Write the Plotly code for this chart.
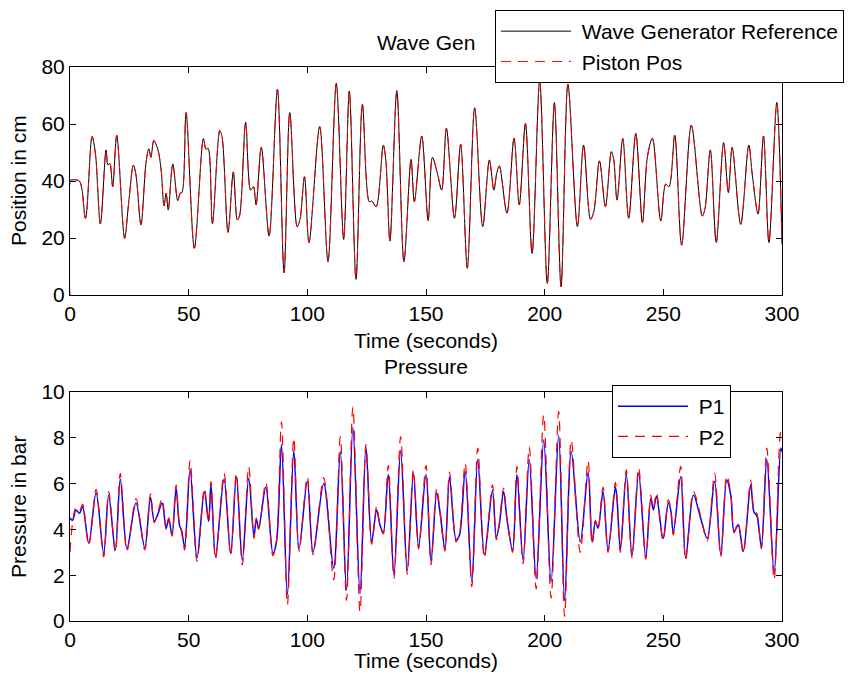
import plotly.graph_objects as go

# ---------------- data ----------------
ref_t = [0.0, 3.9, 6.5, 9.3, 10.7, 12.8, 15.2, 16.0, 16.8, 18.0, 19.7, 23.0, 24.7, 26.7, 27.8,
         29.9, 32.0, 33.2, 34.1, 35.3, 37.0, 38.4, 39.6, 40.5, 41.4, 43.3, 45.4, 46.4, 47.2,
         48.9, 52.4, 56.2, 57.3, 58.2, 60.0, 63.1, 64.05, 66.6, 68.8, 70.5, 71.5, 74.0, 76.1,
         77.3, 78.4, 80.6, 83.9, 87.4, 90.2, 92.6, 95.7, 96.9, 98.8, 100.7, 105.2, 108.7,
         112.2, 115.3, 117.7, 120.5, 123.2, 126.1, 127.1, 129.0, 132.0, 133.1, 134.8, 137.7,
         140.7, 143.7, 145.1, 148.2, 150.9, 152.7, 154.8, 156.6, 158.6, 162.0, 164.6, 167.4,
         170.5, 173.9, 176.7, 178.6, 179.8, 180.9, 184.1, 187.1, 189.3, 191.9, 194.7, 197.9,
         201.1, 204.1, 206.9, 209.8, 213.8, 216.4, 219.3, 220.7, 223.1, 225.6, 228.1, 229.1,
         230.5, 232.9, 235.4, 238.4, 241.2, 243.3, 245.4, 248.9, 251.0, 252.4, 254.8, 257.7,
         261.8, 266.4, 267.5, 269.8, 272.3, 275.4, 277.4, 279.0, 282.6, 286.0, 287.5, 289.9,
         292.2, 294.5, 297.8, 300.0]
ref_pos = [40.3, 40.0, 26.9, 55.6, 49.7, 24.9, 50.9, 45.6, 46.2, 38.0, 56.0, 19.9, 32.2, 45.6, 42.1,
           24.6, 46.2, 51.3, 48.3, 54.2, 51.1, 43.9, 31.3, 35.7, 29.8, 46.0, 33.1, 35.7, 36.0,
           64.0, 16.4, 54.9, 51.1, 51.5, 25.0, 57.7, 55.6, 22.0, 43.2, 26.3, 28.0, 60.6, 36.8,
           38.0, 31.6, 51.8, 20.7, 72.2, 7.8, 64.0, 24.0, 26.5, 41.5, 18.4, 59.1, 11.7,
           74.3, 19.5, 71.6, 5.5, 66.9, 32.7, 33.0, 31.0, 52.6, 47.0, 18.9, 71.7,
           11.7, 47.6, 32.7, 55.8, 26.1, 48.3, 42.7, 36.8, 58.5, 26.9, 52.9, 9.4,
           65.7, 24.0, 47.4, 36.8, 42.7, 45.3, 28.7, 55.0, 31.6, 60.2, 14.6, 75.4,
           4.1, 67.5, 2.9, 74.0, 24.0, 52.6, 26.5, 29.2, 47.1, 31.0, 50.3, 47.5,
           33.3, 54.9, 26.9, 56.7, 25.4, 48.5, 55.0, 26.0, 38.9, 38.0, 56.1, 17.5,
           59.6, 27.7, 30.0, 50.9, 18.4, 53.5, 35.9, 51.8, 24.8, 52.6, 42.1, 28.4,
           55.8, 18.4, 67.5, 18.0]
# piston follows the reference, starting from 0
piston_t = [0.0, 0.6] + ref_t[1:]
piston_pos = [0.0, 40.0] + ref_pos[1:]

p_t = [0.0, 1.1, 2.5, 4.0, 5.3, 7.9, 11.0, 14.2, 16.3, 19.1, 21.2, 24.0, 27.8, 31.5, 33.9, 35.5,
       36.8, 38.8, 40.5, 41.6, 43.0, 44.7, 46.1, 47.0, 48.3, 50.6, 53.5, 56.6, 58.4, 59.4, 61.3,
       64.9, 67.7, 70.1, 72.6, 75.3, 77.5, 78.5, 79.5, 82.5, 85.5, 87.0, 89.1, 91.6, 94.3, 96.5,
       100.0, 102.4, 106.9, 111.1, 113.9, 116.5, 119.2, 122.2, 124.7, 127.1, 129.2, 130.6,
       132.0, 134.1, 136.5, 139.3, 142.1, 144.7, 146.9, 150.0, 152.1, 154.5, 155.9, 158.0,
       159.9, 162.7, 164.1, 166.5, 169.3, 171.8, 174.6, 178.0, 179.6, 180.8, 182.7, 184.1,
       186.5, 188.3, 190.9, 193.5, 196.4, 199.6, 202.7, 205.9, 208.4, 211.2, 215.0, 218.3,
       220.0, 221.4, 222.5, 224.6, 226.7, 229.8, 230.5, 231.9, 234.4, 236.8, 239.6, 242.6,
       244.7, 245.8, 247.1, 249.9, 252.1, 253.1, 254.2, 257.3, 259.4, 262.7, 265.7, 268.5,
       271.6, 274.2, 276.7, 278.4, 279.8, 281.5, 283.7, 286.8, 288.2, 289.4, 291.3, 293.6,
       296.7, 299.5, 300.0]
p1 = [4.5, 4.4, 4.85, 4.7, 5.0, 3.4, 5.6, 2.95, 5.5, 3.1, 6.2, 3.15, 5.15, 3.2, 5.4, 4.35,
      4.6, 5.15, 4.05, 4.45, 3.75, 5.8, 4.2, 3.95, 3.25, 6.6, 2.75, 5.65, 4.35, 5.95, 2.8,
      6.2, 2.95, 6.3, 2.65, 6.25, 3.7, 4.45, 4.05, 5.85, 2.95, 3.45, 7.7, 1.15, 7.45, 3.15,
      6.1, 3.0, 6.0, 2.3, 7.4, 1.35, 8.45, 1.2, 7.6, 3.45, 4.85, 4.2,
      3.85, 6.4, 2.0, 7.45, 2.2, 6.45, 3.25, 6.4, 2.6, 5.6, 4.75, 3.15,
      6.3, 3.55, 3.75, 6.55, 1.7, 7.05, 2.9, 5.7, 3.65, 4.15, 5.65, 4.45,
      3.1, 6.4, 2.65, 7.05, 1.85, 7.9, 1.7, 8.1, 0.9, 7.4, 3.45, 6.5,
      3.45, 4.35, 4.05, 5.65, 3.1, 5.85, 5.3, 3.1, 6.4, 2.85, 6.45, 2.8,
      5.35, 4.85, 5.45, 3.6, 5.15, 4.85, 3.85, 6.3, 2.75, 5.5, 4.5, 3.6,
      6.1, 2.9, 6.15, 5.5, 3.9, 4.2, 3.05, 5.95, 4.75, 4.6, 3.25, 7.05,
      2.1, 7.55, 7.4]
p2 = [3.0, 4.3, 4.95, 4.8, 5.1, 3.3, 5.75, 2.8, 5.65, 3.0, 6.45, 3.05, 5.35, 3.1, 5.55, 4.3,
      4.65, 5.35, 4.0, 4.5, 3.7, 5.95, 4.2, 3.9, 3.1, 7.0, 2.6, 5.8, 4.3, 6.1, 2.7,
      6.45, 2.85, 6.45, 2.45, 6.75, 3.6, 4.5, 4.0, 6.05, 2.85, 3.5, 8.7, 0.7, 8.0, 3.05,
      6.3, 2.9, 6.25, 1.8, 8.05, 0.9, 9.35, 0.4, 7.7, 3.35, 5.0, 4.2,
      3.8, 6.8, 1.85, 8.05, 2.05, 6.6, 3.15, 6.8, 2.45, 5.8, 4.8, 3.05,
      6.5, 3.45, 3.8, 6.9, 1.5, 7.55, 2.75, 5.95, 3.55, 4.2, 5.8, 4.5,
      3.0, 6.75, 2.5, 7.6, 1.4, 9.0, 1.0, 9.15, 0.2, 7.9, 3.0, 7.0,
      3.35, 4.4, 4.0, 5.85, 3.0, 6.05, 5.35, 3.0, 6.6, 2.75, 6.7, 2.7,
      5.5, 4.9, 5.6, 3.5, 5.3, 4.9, 3.75, 6.75, 2.65, 5.65, 4.6, 3.5,
      6.45, 2.8, 6.35, 5.6, 3.85, 4.3, 2.95, 6.15, 4.85, 4.7, 3.15, 7.55,
      1.8, 8.3, 8.2]

x_ticks = [0, 50, 100, 150, 200, 250, 300]
pos_ticks = [0, 20, 40, 60, 80]
p_ticks = [0, 2, 4, 6, 8, 10]

# ---------------- figure ----------------
FONT = "Liberation Sans, Arial, sans-serif"
FS = 21
NB = "\u00a0"

fig = go.Figure()
fig.add_trace(go.Scatter(x=ref_t, y=ref_pos, mode="lines", name=NB + "Wave Generator Reference",
                         line=dict(color="black", width=1, shape="spline", smoothing=0.9),
                         xaxis="x", yaxis="y", legend="legend"))
fig.add_trace(go.Scatter(x=piston_t, y=piston_pos, mode="lines", name=NB + "Piston Pos",
                         line=dict(color="#ff0000", width=1, dash="10px,7px", shape="spline", smoothing=0.9),
                         xaxis="x", yaxis="y", legend="legend"))
fig.add_trace(go.Scatter(x=p_t, y=p1, mode="lines", name=NB + "P1",
                         line=dict(color="#0000ff", width=1.5, shape="spline", smoothing=0.9),
                         xaxis="x2", yaxis="y2", legend="legend2"))
fig.add_trace(go.Scatter(x=p_t, y=p2, mode="lines", name=NB + "P2",
                         line=dict(color="#ff0000", width=1.2, dash="10px,7px", shape="spline", smoothing=0.9),
                         xaxis="x2", yaxis="y2", legend="legend2"))

L, R, T, B = 70, 70, 67, 54
W, H = 852, 675
ph = H - T - B
pw = W - L - R


def px(x):
    return (x - L) / pw


def py(y):
    return (H - B - y) / ph


axis_common = dict(showline=True, linecolor="black", linewidth=1, mirror="allticks",
                   ticks="inside", ticklen=6, tickcolor="black", showgrid=False,
                   zeroline=False, tickfont=dict(family=FONT, size=FS, color="black"))

fig.update_layout(
    width=W, height=H,
    margin=dict(l=L, r=R, t=T, b=B, autoexpand=False),
    paper_bgcolor="white", plot_bgcolor="white",
    font=dict(family=FONT, size=FS, color="black"),
    xaxis=dict(domain=[0, 1], anchor="y", range=[0, 300], tickvals=x_ticks, **axis_common),
    yaxis=dict(domain=[py(295), 1], anchor="x", range=[0, 80], tickvals=pos_ticks, **axis_common),
    xaxis2=dict(domain=[0, 1], anchor="y2", range=[0, 300], tickvals=x_ticks, **axis_common),
    yaxis2=dict(domain=[0, py(392)], anchor="x2", range=[0, 10], tickvals=p_ticks, **axis_common),
    legend=dict(x=px(495), y=py(10), xanchor="left", yanchor="top",
                bgcolor="white", bordercolor="black", borderwidth=1,
                font=dict(family=FONT, size=FS, color="black"), itemwidth=70,
                tracegroupgap=0),
    legend2=dict(x=px(612), y=py(385), xanchor="left", yanchor="top",
                 bgcolor="white", bordercolor="black", borderwidth=1,
                 font=dict(family=FONT, size=FS, color="black"), itemwidth=70,
                 tracegroupgap=0),
    showlegend=True,
)

ann = [
    dict(text="Wave Gen", x=px(426), y=py(42), yanchor="middle"),
    dict(text="Pressure", x=px(426), y=py(367), yanchor="middle"),
    dict(text="Time (seconds)", x=px(426), y=py(340), yanchor="middle"),
    dict(text="Time (seconds)", x=px(426), y=py(674), yanchor="bottom"),
    dict(text="Position in cm", x=px(18), y=py(181), textangle=-90, yanchor="middle"),
    dict(text="Pressure in bar", x=px(18), y=py(507), textangle=-90, yanchor="middle"),
]
for a in ann:
    fig.add_annotation(xref="paper", yref="paper", showarrow=False, xanchor="center",
                       font=dict(family=FONT, size=FS, color="black"), **a)

fig.write_html("out.html")
